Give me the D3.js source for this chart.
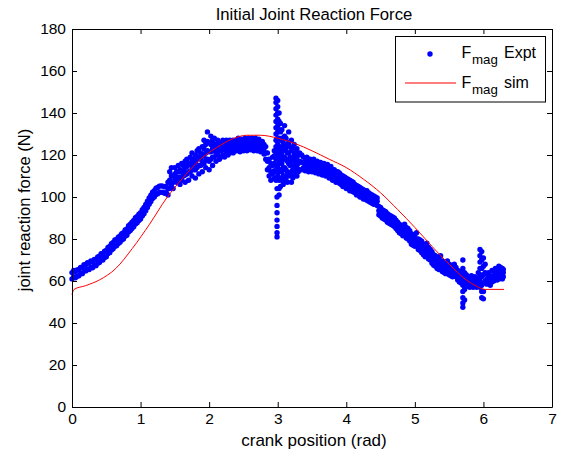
<!DOCTYPE html>
<html>
<head>
<meta charset="utf-8">
<script src="https://cdn.jsdelivr.net/npm/d3@7"></script>
<style>
  html, body { margin: 0; padding: 0; background: #ffffff; }
  svg { display: block; }
  text { font-family: "Liberation Sans", Arial, Helvetica, sans-serif; fill: #000; }
</style>
</head>
<body>
<svg id="chart" width="561" height="457"></svg>
<script>
// ---------- DATA ----------
const titleText = "Initial Joint Reaction Force";
const xLabelText = "crank position (rad)";
const yLabelText = "joint reaction force (N)";
const xTicks = [0, 1, 2, 3, 4, 5, 6, 7];
const yTicks = [0, 20, 40, 60, 80, 100, 120, 140, 160, 180];
const legendLabels = [["F", "mag", "Expt"], ["F", "mag", "sim"]];

// Experimental samples: each row = [crank position, measured force(s) at that position]
const exptRise = [
  [0,61,64],[0.025,62,65],[0.05,61.5,64.5],[0.075,62.3,65.3],[0.1,62.5,65.5],[0.125,63.5,66.5],
  [0.15,63.5,66.5],[0.175,64.8,67.8],[0.2,64.8,67.8],[0.225,65.7,68.7],[0.25,65.5,68.5],[0.275,66.5,69.5],
  [0.3,66.3,69.3],[0.325,67.3,70.3],[0.35,67.3,70.3],[0.375,68.5,71.5],[0.4,68.8,71.8],[0.425,70,73],
  [0.45,70,73],[0.475,71.2,74.2],[0.5,71.5,74.5],[0.525,73,76],[0.55,73.5,76.5],[0.575,74.8,77.8],
  [0.6,75.3,78.3],[0.625,76.5,79.5],[0.65,76.8,79.8],[0.675,77.8,80.8],[0.7,78.5,81.5],[0.725,79.5,82.5],
  [0.75,80,83],[0.775,81.3,84.3],[0.8,81.8,84.8],[0.825,83.3,86.3],[0.85,84,87],[0.875,85,88],
  [0.9,85.8,88.8],[0.925,87.1,90.1],[0.95,87.7,90.7],[0.975,88.8,91.8],[1,89.5,92.5],[1.025,91,94],
  [1.05,92,95],[1.075,93.5,96.5],[1.1,95,98],[1.125,96.5,99.5],[1.15,97.8,100.8],[1.175,99.3,102.3],
  [1.2,100,103],[1.225,101.2,104.2],[1.25,101.5,104.5],[1.275,102.2,105.2],[1.3,102.3,105.3],
  [1.325,102.2,105.2],[1.35,101.8,104.8],[1.375,102,105]
];
const exptNoisy = [
  [1.4,101,104,107],[1.425,104,108,112],[1.45,106,110,114],[1.475,104,107,110],[1.5,108,111,114],
  [1.525,107,109.5,112],[1.55,109,112,115],[1.575,106,109.5,113],[1.6,108,112,116],[1.625,110,112.5,115],
  [1.65,107,110.5,114,117],[1.675,111,114.5,118],[1.7,108,112,116],[1.725,112,115.5,119],
  [1.75,110,113.5,117.5,121],[1.775,113,115.5,118],[1.8,109,113,116.5,120],[1.825,114,118,122],
  [1.85,111,115,119,123],[1.875,115,118,121],[1.9,112,116,120,124],[1.925,116,119.5,123,127],
  [1.95,114,117.5,121,125],[1.975,118,122,126.5,131],[2.0,113,117,121.5,126],[2.025,118,121.5,125,129],
  [2.05,115,119,123,127],[2.075,119,122,125,128],[2.1,117,121,125],[2.125,120,123.5,127],
  [2.15,118,122,126],[2.175,119,122,125],[2.2,120,123.5,127],[2.225,119,122.5,126],
  [2.25,121,124,127],[2.275,120,123,126],[2.3,121,124,127],[2.325,122,124,126],
  [2.35,121,124,127],[2.375,122,124,126]
];
const exptPeak = [
  [2.4,122,124.5,127],[2.425,123,125.5,128],[2.45,121.5,124,126.5],[2.475,123,125,127.5],
  [2.5,122,124.5,127],[2.525,123.5,126,128],[2.55,122,124,126.5],[2.575,123,125.5,128],
  [2.6,122.5,125,127.5],[2.625,124,126,128],[2.65,122,124.5,127],[2.675,123,125.5,128],
  [2.7,122,124,126.5],[2.725,123,125,127.5],[2.75,121.5,124,126],[2.775,122,124,126.5],
  [2.8,120.5,123,125],[2.825,118,121,124],[2.85,113,117,121],[2.875,110,114,118],
  [2.9,108,112,116],[2.925,111,115,119],[2.95,109,112.5,116,119.5,122]
];
const exptSpike = [
  [2.975,147,145,142,139,136,133,130,127,124,121,118,115,112,108],
  [2.99,104,100,96,92.5,89,86,83,81],
  [3.0,146,143,140,137,134,131,128,125,122,118,114,110],
  [3.02,140,136,132,128,124,120,116,112,108,104,101],
  [3.04,135,131,127,122,118,113,109,105],
  [3.06,132,128,124,120,116,112,108],
  [3.08,126,122,118,114,110,106],
  [3.1,134,129,124,119,114,110],
  [3.12,128,123,118,113,108],
  [3.14,125,121,117,112,107],
  [3.16,131,126,121,116,110],
  [3.18,124,119,115,111],
  [3.2,127,122,117,112,107],
  [3.22,123,118,113,109],
  [3.24,125,120,115,110],
  [3.26,121,117,112],
  [3.28,123,119,114,110],
  [3.3,120,116,112],
  [3.32,121,117,113]
];
const exptFall = [
  [3.35,113,116.5,120],[3.375,114,116.5,119],[3.4,112.5,115.5,118.5],[3.425,114,116.5,119],
  [3.45,112,115,118],[3.475,113.5,116,118],[3.5,112,114.5,117.5],[3.525,113,115.5,118],
  [3.55,111.5,114,116.5],[3.575,112.5,115,117],[3.6,111,113.5,116],[3.625,112,114,116.5],
  [3.65,110.5,113,115.5],[3.675,111.5,113.5,116],[3.7,110,112.5,115],[3.725,110.5,113,115.5],
  [3.75,109,111.5,114],[3.775,109.5,112,114.5],[3.8,108,110.5,113],[3.825,108.5,111,113],
  [3.85,107,109.5,112],[3.875,107.5,110,112],[3.9,106.5,109,111.5],[3.925,106,108,110.5],
  [3.95,105,107.5,110],[3.975,105,107,109.5],[4.0,104,106.5,109],[4.025,104.5,106.5,108.5],
  [4.05,103,105.5,108],[4.075,103,105,107.5],[4.1,102.5,104.5,107],[4.125,102,104,106],
  [4.15,101,103,105.5],[4.175,101,103,105],[4.2,100,102,104.5],[4.225,100,102,104],
  [4.25,99,101,103.5],[4.275,99,101,103],[4.3,98.5,100.5,103],[4.325,98,100,102],
  [4.35,97.5,99.5,101.5],[4.375,97,99,101],[4.4,96.5,98.5,100.5],[4.425,96.5,98,100],
  [4.45,96,98,99.5]
];
const exptTail = [
  [4.475,91.5,93.5,95.5],[4.5,91,93,95],[4.525,90,92,94],[4.55,89.5,91.5,93.5],[4.575,89,91,93],
  [4.6,88,90,92],[4.625,87.5,89.5,91.5],[4.65,87,89,91],[4.675,86.5,88.5,90.5],[4.7,86,88,90],
  [4.725,85,87,89],[4.75,84,86,88],[4.775,83,85,87],[4.8,82.5,84.5,86.5],[4.825,81.5,84,86],
  [4.85,82,84.5,87],[4.875,80.5,83,85.5],[4.9,80,82.5,85],[4.925,79,81.5,84],[4.95,77.5,80,82.5],
  [4.975,77,79,81.5],[5.0,76.5,79,82],[5.025,77,80,83],[5.05,75,77.5,80],[5.075,74.5,77,79.5],
  [5.1,73.5,76,79],[5.125,72.5,75,77.5],[5.15,71.5,74,76.5],[5.175,72.5,75,78],[5.2,70.5,73,76],
  [5.225,70,72.5,75],[5.25,68.5,71,74],[5.275,67.5,70,72.5],[5.3,67,69.5,72],[5.325,66,68.5,71],
  [5.35,65.5,68,70.5],[5.375,66,69,72],[5.4,64.5,67,69.5],[5.425,64,66.5,69],[5.45,63.5,66,68],
  [5.475,64,66.5,69.5],[5.5,63,65.5,68],[5.525,62.5,65,67.5],[5.55,62,64,66.5],[5.575,63,65.5,68],
  [5.6,62,64,66.5],[5.625,60.5,63,65],[5.65,59.5,62,64.5],[5.675,59,61,63.5],
  [5.7,70,66,62,58,55,52,49.5,47.5],[5.725,64,60,56,51],
  [5.75,58.5,61,63],[5.775,57.5,60,62],[5.8,57,59,61.5],[5.825,58,60,62.5],[5.85,57,59,61],
  [5.875,57.5,60,62],[5.9,57,59,61.5],[5.925,58,61,64],
  [5.95,75,72,69,66,63,60,57],[5.975,74,70,66,62,58,55,52],[6.0,71,67,63,59,55,51.5],
  [6.025,60,64,68],[6.05,58.5,61,63.5],[6.075,59,61.5,64],[6.1,58,60,62.5],[6.125,59.5,62,65],
  [6.15,60,62,64.5],[6.175,61,63.5,66],[6.2,60.5,63,65.5],[6.225,61,64,67],[6.25,62,64,66.5],
  [6.275,61,63.5,66],[6.29,62,64,65.5]
];

// Simulated curve
const simX = [0, 0.03, 0.2, 0.4, 0.64, 0.88, 1.13, 1.38, 1.62, 1.87, 2.11, 2.35, 2.55, 2.75, 3.0, 3.25, 3.5, 3.75, 4.0, 4.25, 4.5, 4.75, 5.0, 5.25, 5.5, 5.75, 5.9, 6.02, 6.3];
const simY = [53.5, 56, 57.8, 60.5, 66, 75.5, 87, 99.5, 109.2, 117.9, 123.5, 127.8, 129.4, 129.4, 128, 125.5, 122, 118, 114, 108.5, 102, 94, 85.5, 76.5, 68, 60.5, 57.5, 56, 56];

// ---------- CHART ----------
const svg = d3.select("#chart");
const L = 72, R = 552, T = 29, B = 407;
const x = d3.scaleLinear().domain([0, 7]).range([L, R]);
const y = d3.scaleLinear().domain([0, 180]).range([B, T]);

svg.append("rect").attr("x", 0).attr("y", 0).attr("width", 561).attr("height", 457).attr("fill", "#fff");

// experimental dots
const rows = [].concat(exptRise, exptNoisy, exptPeak, exptSpike, exptFall, exptTail);
const pts = [];
rows.forEach(r => { for (let i = 1; i < r.length; i++) pts.push([r[0], r[i]]); });
svg.append("g").selectAll("circle").data(pts).join("circle")
  .attr("cx", d => x(d[0])).attr("cy", d => y(d[1])).attr("r", 2.7)
  .attr("fill", "#0000ff");

// simulated line
const simData = simX.map((v, i) => [v, simY[i]]);
svg.append("path").datum(simData)
  .attr("fill", "none").attr("stroke", "#ff0000").attr("stroke-width", 1)
  .attr("d", d3.line().x(d => x(d[0])).y(d => y(d[1])).curve(d3.curveMonotoneX));

// axes
const fmt = d3.format("d");
function styleAxis(g) {
  g.selectAll("path.domain").attr("stroke", "#000").attr("stroke-width", 1);
  g.selectAll(".tick line").attr("stroke", "#000").attr("stroke-width", 1);
  g.selectAll(".tick text").attr("font-size", "15.5px").attr("fill", "#000")
    .attr("font-family", '"Liberation Sans", Arial, sans-serif');
}
svg.append("g").attr("transform", `translate(0,${B})`)
  .call(d3.axisBottom(x).tickValues(xTicks).tickFormat(fmt).tickSizeInner(-5).tickSizeOuter(0).tickPadding(6))
  .call(styleAxis);
svg.append("g").attr("transform", `translate(0,${T})`)
  .call(d3.axisTop(x).tickValues(xTicks).tickFormat("").tickSizeInner(-5).tickSizeOuter(0))
  .call(styleAxis);
svg.append("g").attr("transform", `translate(${L},0)`)
  .call(d3.axisLeft(y).tickValues(yTicks).tickFormat(fmt).tickSizeInner(-5).tickSizeOuter(0).tickPadding(6))
  .call(styleAxis);
svg.append("g").attr("transform", `translate(${R},0)`)
  .call(d3.axisRight(y).tickValues(yTicks).tickFormat("").tickSizeInner(-5).tickSizeOuter(0))
  .call(styleAxis);

// title & labels
svg.append("text").attr("x", 314).attr("y", 20).attr("text-anchor", "middle")
  .attr("font-size", "16.7px").text(titleText);
svg.append("text").attr("x", 314).attr("y", 446).attr("text-anchor", "middle")
  .attr("font-size", "17px").text(xLabelText);
svg.append("text").attr("transform", "translate(30,210) rotate(-90)").attr("text-anchor", "middle")
  .attr("font-size", "16.5px").text(yLabelText);

// legend
const lg = svg.append("g");
lg.append("rect").attr("x", 395.5).attr("y", 36.5).attr("width", 150).attr("height", 65.5)
  .attr("fill", "#fff").attr("stroke", "#000").attr("stroke-width", 1);
lg.append("circle").attr("cx", 430).attr("cy", 54).attr("r", 2.7).attr("fill", "#0000ff");
lg.append("line").attr("x1", 405).attr("x2", 456).attr("y1", 83).attr("y2", 83)
  .attr("stroke", "#ff0000").attr("stroke-width", 1.2);
const baselines = [57.5, 87.5];
legendLabels.forEach((lab, i) => {
  const b = baselines[i];
  lg.append("text").attr("x", 461.5).attr("y", b).attr("font-size", "16px").text(lab[0]);
  lg.append("text").attr("x", 472).attr("y", b + 6).attr("font-size", "13.3px").text(lab[1]);
  lg.append("text").attr("x", 504).attr("y", b).attr("font-size", "16px").text(lab[2]);
});
</script>
</body>
</html>
